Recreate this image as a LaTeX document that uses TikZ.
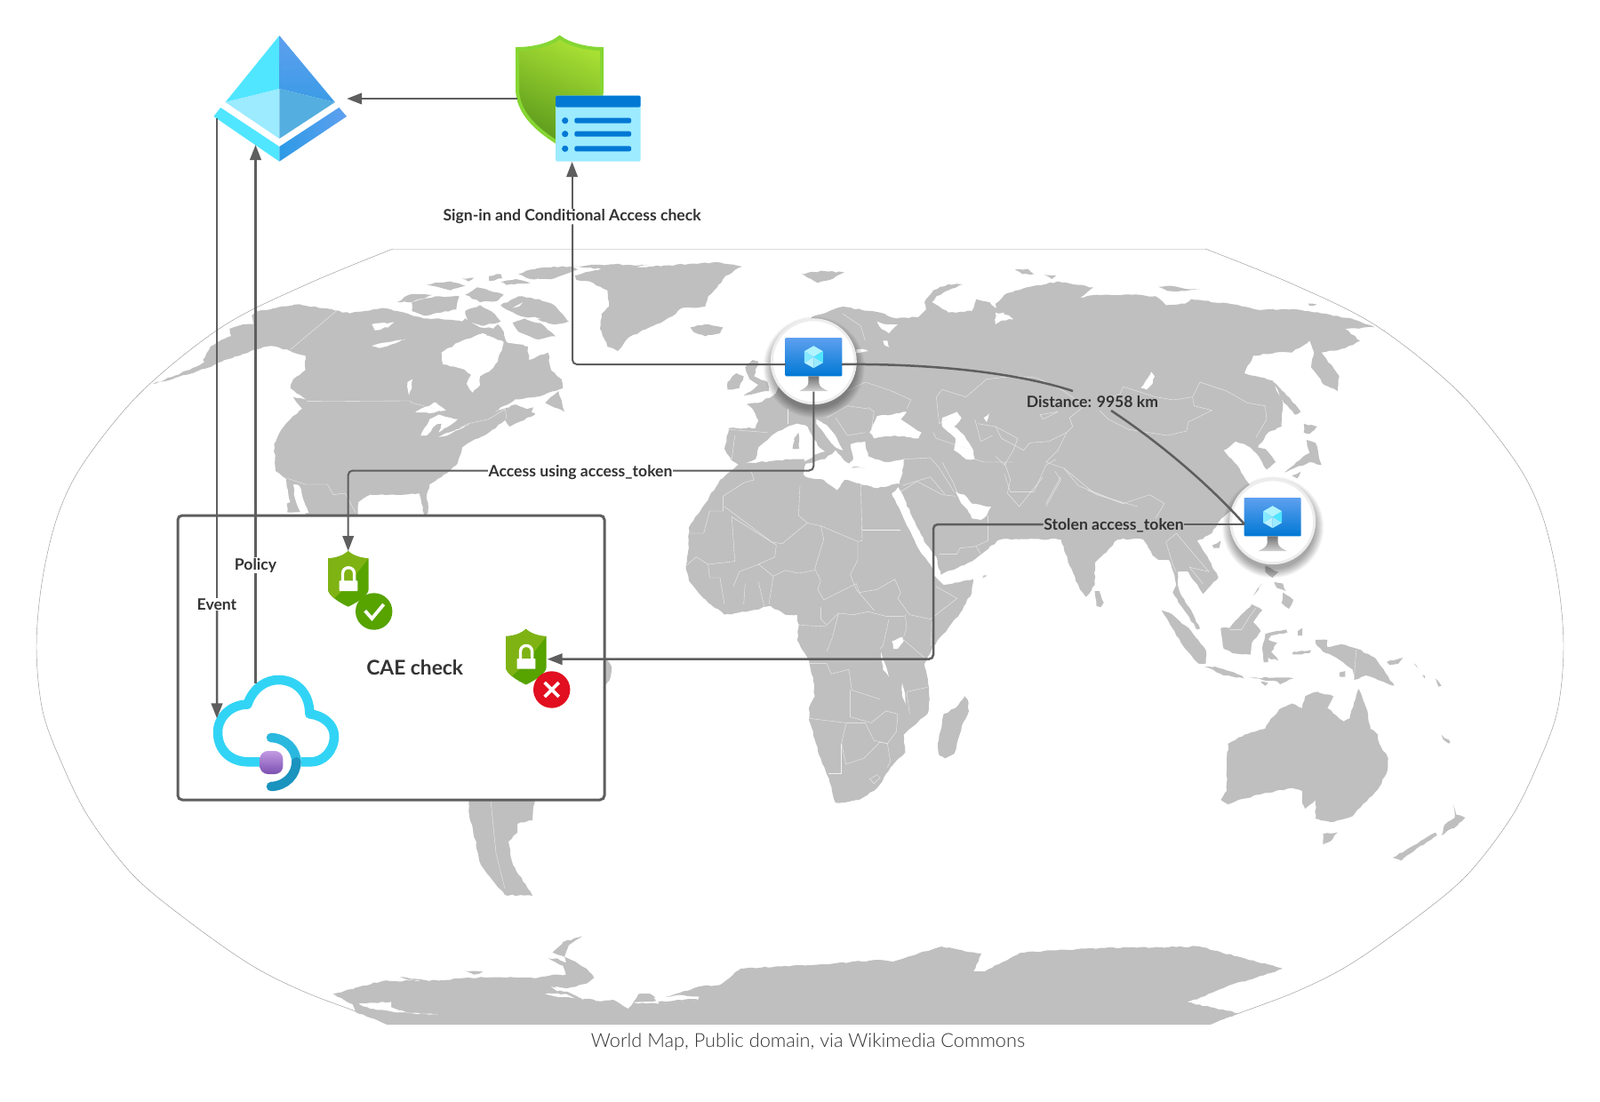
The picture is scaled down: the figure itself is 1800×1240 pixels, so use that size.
\documentclass[tikz,border=0pt]{standalone}
\usepackage{fontspec}
\setmainfont{Lato}
\newfontfamily\lightf{Lato Light}
\newfontfamily\boldf{Lato Bold}
\usetikzlibrary{arrows.meta,decorations.pathmorphing}
\definecolor{landc}{HTML}{BFBFBF}
\definecolor{linec}{HTML}{5E5E5E}
\definecolor{txtc}{HTML}{333333}
\definecolor{msblue}{HTML}{0078D4}
\definecolor{msblueb}{HTML}{5EA0EF}
\definecolor{msaq}{HTML}{50E6FF}
\definecolor{mspale}{HTML}{9CEBFF}
\definecolor{cAadB}{HTML}{3B9BE6}
\definecolor{cAadF}{HTML}{54AEDF}
\definecolor{cAadC}{HTML}{2D9AE6}
\definecolor{cShT}{HTML}{A8E034}
\definecolor{cShB}{HTML}{5C9A1C}
\definecolor{cShO}{HTML}{86D633}
\definecolor{cGrn}{HTML}{57A300}
\definecolor{cGrnL}{HTML}{7FB314}
\definecolor{cRed}{HTML}{E10F1F}
\definecolor{cCl}{HTML}{32D4F5}
\definecolor{cClM}{HTML}{2BB8DE}
\definecolor{cClD}{HTML}{1A93BE}
\definecolor{cPuT}{HTML}{C29BE3}
\definecolor{cPuB}{HTML}{7A4FB0}
\tikzset{
  zm/.style 2 args={x=0.33333pt,y=-0.33333pt,shift={(#1pt,-#2pt)}},
  rough/.style={decorate,decoration={random steps,segment length=4.5pt,amplitude=0.8pt}},
  land/.style={fill=landc,rough},
  bord/.style={draw=white!78!landc,line width=0.35pt},
  conn/.style={draw=linec,line width=2.5pt,rounded corners=5pt},
  connarrow/.style={conn,-{Triangle[length=17pt,width=12.5pt]}},
  lab/.style={font=\fontsize{17.6}{20}\selectfont\boldf,text=txtc,inner sep=0.5pt},
}
\newcommand\poly[1]{\fill[land] plot coordinates {#1} -- cycle;}
\newcommand\carve[1]{\fill[white,rough] plot coordinates {#1} -- cycle;}
\newcommand\brd[1]{\draw[bord] plot coordinates {#1};}
\newcommand\vmIcon[3]{%
\begin{scope}[shift={(#2pt,-#3pt)}]
  \foreach \r in {57,56,...,47}{\fill[black,opacity=0.035] (0.5,6.5) circle[radius=\r];}
  \node[circle,fill=white,draw=white!93!black,line width=3pt,minimum size=94pt,inner sep=0pt] (#1) at (0,0) {};
  \shade[top color=msblueb,bottom color=msblue,rounded corners=1pt] (-32,-26.7) rectangle (32,16.6);
  \shade[top color=black!55,bottom color=black!18] (-6,16.6) -- (-6,24) .. controls (-6,29) and (-12,31) .. (-16,33.3) -- (16,33.3) .. controls (12,31) and (6,29) .. (6,24) -- (6,16.6) -- cycle;
  \begin{scope}[shift={(0pt,5pt)}]
  \fill[white!55!msaq] (0,-12.5) -- (10.5,-6.5) -- (0,0) -- (-10.5,-6.5) -- cycle;
  \fill[msaq] (10.5,-6.5) -- (10.5,6.5) -- (0,0) -- cycle;
  \fill[mspale] (0,0) -- (10.5,6.5) -- (0,12.5) -- cycle;
  \fill[white!30!mspale] (0,0) -- (0,12.5) -- (-10.5,6.5) -- cycle;
  \fill[mspale!70!msaq] (-10.5,-6.5) -- (0,0) -- (-10.5,6.5) -- cycle;
  \end{scope}
  \coordinate (#1L) at (-31.5,3.3);
  \coordinate (#1R) at (31.7,3.3);
  \coordinate (#1B) at (0,34);
\end{scope}}
\newcommand\lockShield[3]{%
\begin{scope}[shift={(#2pt,-#3pt)}]
  \coordinate (#1) at (0,0);
  \coordinate (#1E) at (24,34);
  \begin{scope}
  \clip (0,0) .. controls (-5,5) and (-14,8) .. (-22.7,8.3) -- (-22.7,43) .. controls (-22.7,50) and (-10,58) .. (0,62.7) .. controls (10,58) and (23,50) .. (23,43) -- (23,8.3) .. controls (14,8) and (5,5) .. (0,0) -- cycle;
  \fill[cGrn] (-30,-5) rectangle (30,70);
  \fill[cGrnL] (-30,-5) -- (30,-5) -- (23,8.3) -- (-2,40) -- (-22.7,60) -- (-30,60) -- cycle;
  \end{scope}
  \fill[white,rounded corners=0.6pt] (-10,33.3) rectangle (10.7,45);
  \draw[white,line width=3.3pt] (-6.2,34) -- (-6.2,25.5) .. controls (-6.2,16.5) and (6.9,16.5) .. (6.9,25.5) -- (6.9,34);
\end{scope}}
\begin{document}
\begin{tikzpicture}[x=1pt,y=-1pt]
\useasboundingbox (0,0) rectangle (1800,1240);
\fill[white] (0,0) rectangle (1800,1240);
% ---- map frame
\draw[black!40,line width=0.45pt] plot[smooth,tension=0.55] coordinates {(442,280) (345,320) (251,367) (160,440) (96,518) (66,577) (48,650) (41,727) (48,800) (70,860) (100,920) (150,985) (210,1035) (281,1085) (340,1115) (406,1140) (441,1152)};
\draw[black!40,line width=0.45pt] plot[smooth,tension=0.55] coordinates {(1356,280) (1455,320) (1549,367) (1640,440) (1704,518) (1734,577) (1752,650) (1759,727) (1752,800) (1730,860) (1700,920) (1650,985) (1590,1035) (1519,1085) (1460,1115) (1394,1140) (1358,1152)};
\draw[black!14,line width=1pt] (442,280) -- (1356,280);
% ---- Americas
\begin{scope}[zm={230}{290}]
\poly{(-174,426) (-100,398) (-40,372) (0,352) (-5,345) (20,300) (45,285) (90,265) (85,240) (130,225) (165,225) (160,195) (180,180) (240,170) (320,157) (440,178) (490,188) (600,170) (650,180) (700,195) (750,205) (790,205) (870,215) (880,205) (930,235) (960,235) (1010,250) (1020,285) (1090,290) (1095,345) (1160,320) (1170,380) (1205,410) (1210,440) (1120,470) (1060,480) (1000,505) (980,522) (1010,510) (1050,490) (1120,490) (1115,530) (1030,570) (1015,548) (960,590) (900,620) (870,640) (850,700) (800,740) (760,765) (750,800) (755,860) (745,880) (725,795) (640,800) (560,800) (520,825) (515,880) (350,880) (340,860) (280,860) (278,830) (290,825) (275,745) (240,720) (235,630) (260,580) (290,545) (330,510) (300,470) (345,480) (290,440) (300,410) (340,380) (340,330) (300,320) (290,315) (225,298) (170,310) (130,325) (60,350) (0,375) (-60,395)}
\carve{(800,320) (860,285) (940,255) (1010,285) (990,350) (960,385) (930,400) (930,430) (905,455) (885,425) (900,395) (870,375) (805,360)}
\carve{(1020,285) (1030,250) (1100,250) (1150,275) (1180,280) (1100,300)}
\carve{(300,765) (320,770) (352,862) (325,862) (305,810)}
\carve{(565,225) (640,218) (620,235) (575,245)}
\carve{(565,298) (620,285) (680,275) (640,290) (590,305)}
\carve{(685,420) (702,410) (700,440) (690,465)}
\carve{(712,520) (780,488) (815,515) (760,525)}
\carve{(730,600) (760,545) (790,530) (855,545) (830,565) (810,575) (790,590) (800,560) (780,565) (750,600)}
\carve{(790,605) (850,580) (895,562) (860,580) (820,600)}
\carve{(980,520) (1050,478) (1130,470) (1190,450) (1140,505) (1115,525) (1050,495)}
\poly{(1150,490) (1195,450) (1205,480) (1215,520) (1180,505)}
\poly{(1060,520) (1110,505) (1100,525) (1065,535)}
% Arctic islands
\poly{(650,150) (690,125) (770,125) (700,150)}
\poly{(700,150) (780,130) (860,130) (850,175) (800,185) (740,195) (700,180)}
\poly{(750,90) (830,80) (880,95) (830,110)}
\poly{(870,70) (910,68) (890,80)}
\poly{(960,62) (1000,55) (1005,70) (960,78)}
\poly{(880,125) (920,100) (1010,125) (990,145) (930,150)}
\poly{(880,180) (930,160) (980,190) (1000,215) (940,230) (890,215)}
\poly{(950,262) (990,225) (1010,250) (990,270)}
\poly{(1000,160) (1060,130) (1130,140) (1180,160) (1230,215) (1180,225) (1140,215) (1080,200) (1020,175)}
\poly{(1040,220) (1080,205) (1140,225) (1185,265) (1120,275) (1060,250)}
\poly{(1060,55) (1100,40) (1180,30) (1240,30) (1260,40) (1180,70) (1100,72)}
\poly{(1000,82) (1050,72) (1100,85) (1020,92)}
\carve{(1085,205) (1115,200) (1135,205) (1105,215)}
\carve{(1040,170) (1075,150) (1060,165)}
\brd{(445,180) (290,310)}
\brd{(345,485) (695,483) (700,490) (780,510)}
\brd{(860,575) (890,560) (960,545) (1015,510) (1020,545)}
\brd{(280,745) (340,765) (415,765) (435,800) (475,795) (510,860)}
\end{scope}
% S America bits (below and beside the box)
\poly{(528,895) (602,895) (599,923) (582,927) (582,937) (572,947) (577,973) (599,1008) (568,1007) (541,973) (532,933) (528,917)}
\brd{(552,900) (558,960) (568,1000)}
\poly{(680,740) (688,750) (686,765) (680,772)}
% ---- Eurasia
\begin{scope}[zm={620}{290}]
\poly{(80,60) (200,30) (330,30) (560,15) (645,30) (590,60) (560,100) (530,130) (520,165) (440,170) (420,190) (370,220) (300,250) (260,270) (225,315) (190,300) (165,240) (170,190) (195,165) (190,110) (130,80) (85,75)}
\poly{(70,30) (200,22) (330,25) (200,40)}
\poly{(470,235) (520,225) (580,235) (570,255) (520,265) (480,250)}
\poly{(655,370) (680,345) (700,350) (685,400) (730,420) (735,450) (650,465) (700,430) (670,410)}
\poly{(595,420) (625,390) (650,400) (635,440) (595,445)}
\poly{(845,55) (920,45) (990,50) (940,75) (900,85)}
\poly{(1260,150) (1290,110) (1340,90) (1390,90) (1340,110) (1300,130) (1285,150) (1310,165) (1285,165)}
\poly{(585,645) (600,575) (690,575) (700,550) (680,510) (660,495) (700,490) (750,465) (800,400) (880,200) (985,165) (1045,175) (1110,185) (1165,205) (1240,200) (1265,175) (1260,150) (1310,165) (1340,185) (1420,180) (1435,140) (1480,150) (1500,170) (1560,150) (1700,600) (1720,940) (1705,935) (1660,905) (1630,865) (1500,862) (1535,915) (1515,950) (1420,1025) (1315,1070) (1290,1020) (1170,770) (640,705) (610,685)}
\end{scope}
\begin{scope}[zm={1120}{290}]
\poly{(0,155) (30,125) (90,105) (210,80) (330,100) (285,135) (340,125) (460,125) (540,130) (575,160) (640,155) (660,140) (820,160) (880,175) (990,175) (1020,175) (1200,205) (1280,235) (1180,240) (1230,280) (1180,305) (1100,320) (1160,400) (1155,450) (1110,430) (1065,370) (1075,320) (1060,280) (1000,320) (945,320) (870,330) (840,390) (935,415) (970,490) (965,570) (920,590) (885,640) (910,645) (945,690) (915,715) (880,660) (850,635) (810,620) (770,650) (815,700) (860,770) (800,840) (700,950) (0,950)}
\poly{(65,40) (110,38) (130,55) (90,55)}
\poly{(165,58) (205,60) (190,72)}
\poly{(550,98) (600,96) (640,105) (690,105) (640,112) (580,112)}
\poly{(1055,155) (1085,158) (1060,162)}
\poly{(940,420) (975,455) (1030,520) (1010,530) (960,470)}
\poly{(1040,560) (1085,570) (1060,595) (1040,590)}
\poly{(1050,615) (1080,625) (1100,700) (1060,690) (975,725) (1040,670) (1060,660)}
\poly{(1000,735) (1030,722) (1018,745)}
\carve{(490,440) (525,385) (537,400) (530,425) (510,445)}
\carve{(0,185) (45,195) (60,208) (20,212) (0,225)}
\end{scope}
\begin{scope}[zm={1160}{600}]
\poly{(100,-100) (100,20) (130,110) (165,190) (185,215) (215,175) (215,100) (265,50) (300,10) (340,-20) (370,0) (410,75) (430,90) (465,90) (480,130) (490,175) (478,200) (510,250) (560,325) (570,322) (545,270) (510,215) (495,175) (495,130) (530,130) (570,190) (580,205) (632,150) (600,90) (560,25) (610,0) (640,-50) (700,-100)}
\poly{(612,40) (640,25) (635,50) (615,50)}
\poly{(215,195) (230,195) (245,235) (235,250) (220,245)}
\poly{(790,110) (835,130) (815,150) (790,130)}
\poly{(850,200) (885,225) (870,255) (845,235)}
\poly{(820,165) (850,170) (860,195) (830,185)}
\poly{(750,210) (780,170) (755,205)}
\poly{(640,320) (670,320) (690,295) (745,240) (780,260) (750,300) (775,330) (745,370) (740,410) (680,405) (650,390)}
\poly{(440,260) (470,270) (540,330) (590,395) (590,440) (565,440) (520,390) (470,310)}
\poly{(585,450) (620,450) (710,480) (720,490) (650,480)}
\poly{(735,485) (775,490) (790,485) (885,490) (840,510) (830,500) (780,495)}
\poly{(775,500) (800,505) (790,515)}
\poly{(790,340) (860,325) (865,335) (810,345) (800,360) (830,370) (810,400) (835,430) (800,420) (800,435) (785,435) (780,390)}
\poly{(960,360) (1000,360) (1000,385) (1045,375) (1100,390) (1160,420) (1190,460) (1225,515) (1170,495) (1130,480) (1090,495) (1085,460) (1030,420) (985,400) (960,370)}
\poly{(885,400) (945,395) (940,405) (890,408)}
\poly{(900,330) (915,320) (915,345) (900,345)}
\poly{(1040,470) (1060,465) (1060,485) (1042,485)}
\poly{(1200,435) (1255,420) (1240,440) (1210,445)}
\poly{(1290,440) (1300,445) (1305,458)}
\poly{(1320,478) (1330,482) (1328,490)}
\poly{(1365,490) (1385,515) (1375,518)}
\poly{(1105,525) (1135,600) (1145,660) (1170,680) (1175,710) (1205,760) (1200,810) (1170,865) (1100,935) (1085,955) (1020,975) (960,965) (960,900) (925,930) (915,912) (915,870) (880,860) (780,880) (700,900) (665,915) (640,900) (660,870) (660,770) (665,710) (720,680) (790,660) (810,625) (845,590) (880,575) (915,590) (925,550) (965,535) (1020,550) (1000,590) (1055,635) (1075,625) (1095,560)}
\poly{(985,1015) (1035,1010) (1010,1040) (985,1050)}
\poly{(1385,1020) (1395,985) (1430,960) (1425,915) (1435,950) (1465,960) (1440,985)}
\poly{(1220,1095) (1280,1060) (1365,1010) (1370,1020) (1300,1065) (1250,1105)}
\poly{(1385,680) (1415,705) (1410,710) (1390,695)}
\brd{(670,325) (710,325) (735,285) (760,250)}
\brd{(1097,395) (1090,490)}
\brd{(455,30) (480,110) (490,130)}
\brd{(490,0) (540,60) (600,130) (535,115) (580,170)}
\brd{(455,30) (490,0)}
\end{scope}
% Seas
\begin{scope}[zm={620}{290}]
\carve{(640,700) (690,680) (700,640) (745,600) (790,575) (830,560) (865,570) (880,600) (900,635) (925,655) (895,665) (860,685) (820,700) (700,700)}
\carve{(850,735) (860,695) (925,680) (960,650) (985,680) (1005,695) (1020,680) (1010,630) (1060,620) (1070,670) (1130,690) (1190,680) (1190,700) (1172,775) (1100,785) (1040,770) (965,790) (920,765)}
\carve{(895,545) (930,565) (965,610) (985,650) (960,640) (945,625) (920,590) (895,560)}
\carve{(1075,590) (1100,535) (1150,530) (1200,520) (1180,545) (1250,590) (1240,610) (1160,600) (1090,610)}
\carve{(1320,540) (1370,520) (1385,540) (1360,570) (1395,600) (1425,650) (1430,680) (1400,680) (1360,650) (1365,610) (1320,570)}
\carve{(1030,310) (1050,308) (1070,315) (1030,322)}
\carve{(1100,215) (1135,225) (1170,225) (1140,255) (1115,240)}
\carve{(1120,280) (1135,280) (1140,302) (1125,295)}
\carve{(1460,540) (1478,525) (1470,555)}
\carve{(1500,190) (1530,185) (1510,220)}
\poly{(820,610) (835,590) (837,645) (815,645)}
\poly{(885,665) (925,655) (925,672) (888,676)}
\poly{(1020,705) (1060,708) (1020,710)}
\brd{(1000,450) (1060,420) (1150,450) (1215,480) (1200,510)}
\brd{(930,540) (1000,500) (1070,510)}
\brd{(985,190) (1045,230) (1060,280)}
\brd{(960,540) (1000,600) (1060,590)}
\brd{(1070,505) (1090,520) (1080,590)}
\brd{(800,510) (800,560)}
\brd{(620,600) (610,680)}
\brd{(600,580) (730,590)}
\brd{(1290,590) (1300,610) (1420,650)}
\brd{(1300,470) (1320,445) (1400,470) (1470,410) (1560,400)}
\brd{(1300,470) (1310,560) (1340,540)}
\brd{(1430,680) (1460,690) (1560,690)}
\brd{(1430,545) (1450,620) (1490,600)}
\brd{(1190,680) (1280,675) (1310,710) (1360,790)}
\brd{(1180,770) (1280,740) (1330,800)}
\end{scope}
% Africa
\begin{scope}[zm={760}{520}]
\poly{(215,5) (280,0) (395,-10) (435,-10) (430,40) (440,50) (500,60) (545,95) (570,60) (620,72) (680,88) (750,72) (770,80) (750,85) (730,105) (775,200) (800,250) (825,300) (860,345) (875,385) (905,415) (1005,395) (1000,440) (960,510) (920,560) (870,620) (840,680) (855,760) (855,830) (850,850) (770,920) (775,980) (735,1020) (680,1100) (620,1140) (540,1150) (520,1080) (490,1000) (450,870) (450,830) (470,790) (465,740) (450,670) (410,600) (415,560) (410,515) (370,515) (320,485) (240,505) (165,515) (95,460) (45,400) (35,350) (45,290) (45,220) (100,140) (150,60)}
\carve{(730,105) (760,130) (800,190) (835,265) (880,320) (895,380) (875,385) (860,345) (825,300) (800,250) (775,200)}
\carve{(945,100) (975,110) (1000,140) (1050,150) (1065,150) (1050,180) (1030,195) (1000,190) (990,170) (960,130)}
\carve{(730,605) (765,590) (770,605) (750,630) (735,630)}
\carve{(693,640) (702,670) (720,725) (700,700)}
\carve{(765,745) (780,820) (765,790)}
\poly{(975,790) (985,800) (990,840) (970,880) (940,985) (910,1000) (890,990) (885,950) (905,850) (945,830)}
\poly{(1040,382) (1052,383) (1042,388)}
\brd{(45,240) (95,240) (115,165) (160,165) (160,115) (230,70) (265,60) (255,30)}
\brd{(165,150) (325,270) (360,275) (445,205)}
\brd{(190,185) (200,335) (110,345) (70,320) (35,350)}
\brd{(190,185) (325,270) (340,280) (335,320) (280,345) (215,370) (195,420)}
\brd{(420,80) (415,180) (445,205) (490,215) (500,260) (470,360) (490,400) (480,430) (500,465)}
\brd{(490,215) (615,268) (630,265) (625,75)}
\brd{(630,230) (760,230)}
\brd{(615,268) (615,330) (590,380) (610,430) (670,500)}
\brd{(280,345) (330,385) (370,365) (415,375) (470,365)}
\brd{(330,385) (315,480)}
\brd{(235,410) (230,480)}
\brd{(280,405) (300,490)}
\brd{(110,345) (115,390) (150,390) (165,480)}
\brd{(500,465) (610,410) (620,440) (680,430) (740,395) (760,440) (750,460) (790,515) (860,530) (950,460) (880,420)}
\brd{(490,490) (490,530) (510,550) (550,510) (600,515) (650,505) (710,520) (770,520)}
\brd{(775,515) (780,560) (770,590)}
\brd{(550,510) (530,590) (510,640)}
\brd{(415,550) (510,555)}
\brd{(770,600) (840,660)}
\brd{(865,540) (862,620)}
\brd{(720,530) (700,620) (690,630)}
\brd{(450,680) (510,680) (525,715) (585,700) (595,770) (690,800)}
\brd{(590,770) (590,860) (660,880) (710,840) (750,850) (745,910) (715,950) (690,945) (635,1000) (575,1020) (560,950) (575,885)}
\brd{(450,865) (575,880) (640,880) (670,940) (715,950)}
\brd{(560,950) (560,1050) (515,1050)}
\brd{(715,950) (725,1010) (715,1030)}
\brd{(655,1070) (680,1055) (690,1065) (670,1085) (655,1070)}
\brd{(850,760) (780,775) (790,850)}
\brd{(890,310) (950,310) (960,290) (1010,285) (1055,265) (1055,180)}
\brd{(760,100) (815,65) (900,110) (945,115)}
\brd{(1015,285) (1030,310)}
\brd{(900,0) (940,75) (960,130)}
\brd{(1120,105) (1160,150) (1200,100) (1240,50)}
\brd{(1110,0) (1130,60) (1120,105)}
\brd{(1250,150) (1300,60) (1280,30)}
\brd{(1310,20) (1420,110) (1560,150)}
\end{scope}
\begin{scope}[zm={1120}{290}]
\brd{(60,400) (140,405) (230,450) (300,500) (250,540) (260,570) (240,590) (180,620) (115,625) (95,650) (20,610) (0,570) (-60,560)}
\brd{(150,530) (210,520) (160,545) (150,530)}
\brd{(350,515) (380,545) (450,580) (580,600) (645,585) (650,555) (730,515) (670,500) (665,470) (600,480) (540,470) (430,435) (420,460) (350,490)}
\brd{(690,420) (780,450) (850,490) (910,500) (915,545) (880,605)}
\brd{(690,420) (665,470)}
\brd{(240,590) (210,650) (170,690) (230,710) (280,770) (430,830) (520,800) (570,830) (540,880)}
\brd{(310,785) (430,830)}
\brd{(30,730) (50,790) (130,790) (170,700) (205,680)}
\brd{(170,830) (220,740)}
\brd{(0,570) (75,610) (60,650) (30,700) (0,670)}
\end{scope}
% Antarctica
\begin{scope}
\clip (300,1000) rectangle (1500,1152);
\begin{scope}[zm={360}{1040}]
\poly{(246,345) (120,297) (110,270) (60,245) (45,235) (130,212) (210,192) (300,190) (400,190) (500,180) (560,180) (680,180) (730,182) (790,170) (830,170) (820,140) (770,115) (800,115) (830,130) (825,110) (785,95) (820,60) (885,40) (840,70) (825,110) (860,125) (900,150) (925,180) (900,200) (840,215) (790,210) (850,235) (880,250) (950,260) (990,255) (1040,285) (1060,260) (1075,235) (1115,235) (1140,255) (1170,245) (1200,235) (1280,210) (1350,205) (1420,150) (1695,135) (1884,120) (1935,126) (2097,75) (2232,99) (2205,159) (2244,159) (2364,96) (2607,81) (2967,75) (3249,150) (3060,210) (2928,264) (3102,300) (2985,345)}
\carve{(130,268) (240,262) (240,280) (300,300) (400,305) (260,298) (170,285)}
\carve{(780,210) (850,225) (800,225)}
\carve{(760,235) (830,235) (860,250) (800,245)}
\carve{(885,248) (910,240) (890,252)}
\carve{(1200,240) (1280,245) (1270,262) (1140,268) (1060,265) (1075,255)}
\poly{(1080,238) (1115,235) (1135,258) (1060,262)}
\poly{(1140,262) (1270,252) (1280,262) (1150,270)}
\poly{(270,178) (350,188) (300,188)}
\poly{(490,158) (550,160) (520,170)}
\end{scope}
\end{scope}
% ---- CAE box
\node[draw=linec,fill=white,line width=3pt,rounded corners=5pt,minimum width=480pt,minimum height=320pt,inner sep=0pt] (caebox) at (440,740) {};
\node[font=\fontsize{22.8}{26}\selectfont\boldf,text=txtc,inner sep=0pt] (caelbl) at (466.7,750.7) {CAE check};
% ---- Azure AD icon
\node[minimum width=150pt,minimum height=142pt,inner sep=0pt] (aad) at (315,111) {};
\coordinate (aadE) at (244,133);
\coordinate (aadP) at (287.5,163);
\fill[msaq] (314.3,40) -- (253.6,115) -- (314.3,100) -- cycle;
\shade[top color=msblueb,bottom color=cAadB] (314.3,40) -- (376.8,115) -- (314.3,100) -- cycle;
\fill[mspale] (253.6,115) -- (314.3,100) -- (314.3,156) -- cycle;
\fill[cAadF] (376.8,115) -- (314.3,100) -- (314.3,156) -- cycle;
\fill[msaq] (240.4,131) -- (248.2,121) -- (314.3,165) -- (314.3,181.7) -- cycle;
\shade[left color=cAadC,right color=msblueb] (314.3,165) -- (381.4,121) -- (390,131) -- (314.3,181.7) -- cycle;
% ---- Conditional Access icon
\coordinate (caW) at (582,111);
\coordinate (caS) at (643.6,182);
\shadedraw[top color=cShT,bottom color=cShB,draw=cShO,line width=4pt,shading angle=-25] (629.6,42) .. controls (620,50) and (600,55) .. (582,55) -- (582,100) .. controls (582,130) and (610,150) .. (629.6,162) .. controls (650,150) and (677,130) .. (677,100) -- (677,55) .. controls (660,55) and (640,50) .. (629.6,42) -- cycle;
\fill[mspale,rounded corners=1.5pt] (625,107.7) rectangle (720.7,181.7);
\fill[msblue,rounded corners=1.5pt] (625,107.7) rectangle (720.7,120.7);
\foreach \yy in {135.7,150.7,167.3}{
  \fill[msblue] (635.7,\yy) circle[radius=3.6];
  \fill[msblue,rounded corners=2pt] (646.4,\yy-3) rectangle (710,\yy+3);
}
% ---- Shields
\lockShield{shOk}{391.7}{620}
\fill[cGrn] (420.7,688) circle[radius=20.7];
\draw[white,line width=3.8pt] (410.7,687.3) -- (418.4,696) -- (431.7,680);
\lockShield{shNo}{591.7}{707.7}
\fill[cRed] (620.7,776) circle[radius=20.7];
\draw[white,line width=3.8pt] (612.7,768) -- (628.7,784) (628.7,768) -- (612.7,784);
% ---- Cloud
\begin{scope}[zm={190}{570}]
\coordinate (cloudE) at (162,715);
\coordinate (cloudP) at (292,596);
\draw[draw=cCl,line width=10.5pt,line join=round] (310,862) -- (270,862) .. controls (205,862) and (165,820) .. (165,762) .. controls (165,710) and (210,668) .. (265,668) .. controls (285,610) and (330,585) .. (370,585) .. controls (430,585) and (475,630) .. (475,700) .. controls (520,705) and (558,735) .. (558,775) .. controls (558,825) and (520,862) .. (480,862) -- (445,862);
\draw[draw=cClM,line width=10.5pt,line cap=round] (345,780) .. controls (395,782) and (430,820) .. (430,862);
\draw[draw=cClD,line width=10.5pt,line cap=round] (430,862) .. controls (430,905) and (395,943) .. (345,945);
\shade[top color=cPuT,bottom color=cPuB,rounded corners=9pt] (307,825) rectangle (385,903);
\end{scope}
% ---- VM icons
\vmIcon{vmA}{915.3}{406.7}
\vmIcon{vmB}{1431.7}{586.7}
% ---- labels
\node[lab] (lblEvent) at (244,680) {Event};
\node[lab] (lblPolicy) at (287.5,636) {Policy};
\node[lab] (lblSign) at (643.6,243.5) {Sign-in and Conditional Access check};
\node[lab] (lblAccess) at (653,532) {Access using access\_token};
\node[lab] (lblStolen) at (1253,591.5) {Stolen access\_token};
\node[lab] (lblDist) at (1229,452) {Distance: 9958 km};
\coordinate (dA) at (1207,440);
\coordinate (dB) at (1250,462);
\coordinate (bendS) at (644,410);
\coordinate (accY) at (653,529.5);
\coordinate (stoY) at (1253,590);
% ---- connectors
\draw[connarrow] (caW) -- (aad.east);
\draw[conn] (aadE) -- (lblEvent.north -| aadE);
\draw[connarrow] (lblEvent.south -| aadE) -- (cloudE);
\draw[conn] (cloudP) -- (lblPolicy.south -| cloudP);
\draw[connarrow] (lblPolicy.north -| aadP) -- (aadP);
\draw[conn,line width=2pt] (vmAL) -| (lblSign.south -| bendS);
\draw[connarrow,line width=2pt] (lblSign.north -| caS) -- (caS);
\draw[conn,line width=2pt] (vmAB) |- (lblAccess.east |- accY);
\draw[connarrow,line width=2pt] (lblAccess.west |- accY) -| (shOk);
\draw[conn] (vmBL) -- (lblStolen.east |- vmBL);
\coordinate (redBend) at (1050,741.7);
\draw[connarrow] (lblStolen.west |- vmBL) -| (redBend) -- (shNoE);
\draw[draw=linec,line width=2.5pt] (vmAR) .. controls (1040,409) and (1140,418) .. (dA);
\draw[draw=linec,line width=2.5pt] (dB) .. controls (1300,495) and (1355,540) .. (vmBL);
% ---- caption
\node[font=\fontsize{21.7}{24}\selectfont\lightf,text=black!80,inner sep=0pt] (caption) at (909,1172.5) {World Map, Public domain, via Wikimedia Commons};
\end{tikzpicture}
\end{document}
